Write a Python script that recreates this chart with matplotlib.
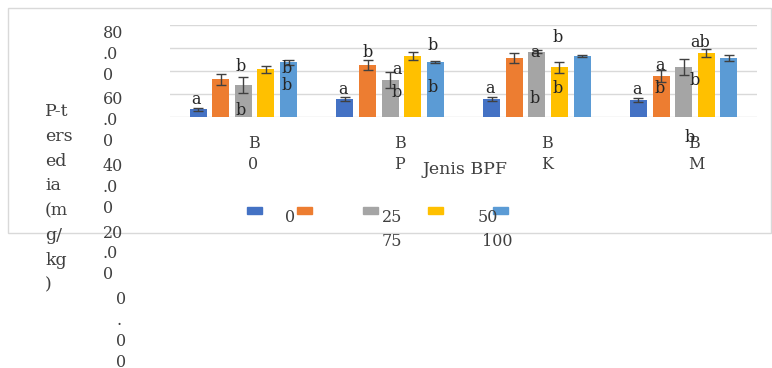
import numpy as np
import matplotlib
matplotlib.use('Agg')
import matplotlib.pyplot as plt
from matplotlib.patches import Rectangle
from matplotlib.transforms import blended_transform_factory

## data
groups = ['B\n0', 'B\nP', 'B\nK', 'B\nM']
series = ['0', '25', '50', '75', '100']
colors = ['#4472C4', '#ED7D31', '#A5A5A5', '#FFC000', '#5B9BD5']

vals = {
    '0':   [6.7, 15.7, 15.7, 14.8],
    '25':  [32.8, 45.2, 51.0, 35.7],
    '50':  [27.8, 32.2, 56.8, 43.8],
    '75':  [41.5, 53.0, 43.2, 55.4],
    '100': [47.6, 47.6, 53.0, 51.0],
}
errs = {
    '0':   [1.5, 1.5, 1.5, 1.5],
    '25':  [5.0, 4.0, 4.3, 5.0],
    '50':  [7.0, 7.0, 1.5, 7.0],
    '75':  [3.0, 3.7, 5.0, 3.5],
    '100': [2.0, 1.0, 0.5, 2.5],
}
# letters: text, group, bar slot, height
letters = [
    ('a', 0, -2.1, 14.8), ('b', 0, -0.1, 43.5), ('b', 0, -0.1, 6.0),
    ('b', 0, 1.9, 42.6), ('b', 0, 1.9, 27.8),
    ('a', 1, -2.07, 23.5), ('b', 1, -0.98, 55.7), ('a', 1, 0.3, 41.0),
    ('b', 1, 0.3, 21.7), ('b', 1, 1.9, 62.6), ('b', 1, 1.9, 26.0),
    ('a', 2, -2.08, 25.0), ('a', 2, -0.08, 56.5), ('b', 2, 0.9, 68.7),
    ('b', 2, -0.08, 16.5), ('b', 2, 0.94, 25.0),
    ('a', 3, -2.07, 23.5), ('a', 3, -1.05, 45.0), ('b', 3, -1.05, 25.0),
    ('b', 3, 0.5, 32.0), ('ab', 3, 0.73, 64.4), ('b', 3, 0.28, -17.4),
]
ytick_labels = ['80\n.0\n0', '60\n.0\n0', '40\n.0\n0', '20\n.0\n0', '0\n.\n0\n0']
ylabel = 'P-t\ners\ned\nia\n(m\ng/\nkg\n)'
xlabel = 'Jenis BPF'

W, H = 772, 368
TXT = '#404040'
FONT = 'DejaVu Serif'
plt.rcParams['font.family'] = FONT


def fx(x):
    return x / W


def fy(y):
    return 1 - y / H


fig = plt.figure(figsize=(W / 100, H / 100), dpi=100)
fig.patches.append(Rectangle((fx(8), fy(233)), fx(763), 225 / H, transform=fig.transFigure,
                             fill=False, edgecolor='#d9d9d9', lw=1))

ax = fig.add_axes([fx(170), fy(117), (757 - 170) / W, (117 - 25) / H])
ax.set_xlim(-0.5, 3.5)
ax.set_ylim(0, 80)
for s in ax.spines.values():
    s.set_visible(False)
ax.set_xticks([])
ax.set_yticks([])
for g in [0, 20, 40, 60, 80]:
    ax.axhline(g, color='#d9d9d9', lw=1, zorder=0)

x = np.arange(len(groups))
step = 0.154
width = 0.116
for i, s in enumerate(series):
    off = (i - 2) * step
    ax.bar(x + off, vals[s], width, color=colors[i], zorder=2)
    ax.errorbar(x + off, vals[s], yerr=errs[s], fmt='none', ecolor='#404040',
                elinewidth=1, capsize=3.5, zorder=3)

for t, g, slot, yv in letters:
    ax.text(g + slot * step, yv, t, ha='center', va='center', fontsize=11.5,
            color='#262626', zorder=4, clip_on=False)

# category labels under the groups
tr = blended_transform_factory(ax.transData, ax.transAxes)
for i, lab in enumerate(groups):
    ax.text(i + 0.03, -0.2, lab, transform=tr, ha='left', va='top', fontsize=11.5,
            color=TXT, linespacing=1.3)

fig.text(fx(423), fy(170), xlabel, ha='left', va='center', fontsize=12.5, color=TXT)

# y tick labels (wrapped)
for i, lab in enumerate(ytick_labels):
    xx = 103 if i < 4 else 116
    fig.text(fx(xx), fy(25 + i * 66.5), lab, ha='left', va='top', fontsize=11.5,
             color=TXT, linespacing=1.3)

fig.text(fx(45), fy(103), ylabel, ha='left', va='top', fontsize=12.5, color=TXT,
         linespacing=1.6)

# legend
sq_x = [247, 297, 363, 428, 493]
for i, c in enumerate(colors):
    fig.patches.append(Rectangle((fx(sq_x[i]), fy(214)), 15 / W, 7 / H,
                                 transform=fig.transFigure, color=c))
leg_pos = [(285, 218), (382, 218), (478, 218), (382, 241), (482, 241)]
for s, (lx, ly) in zip(series, leg_pos):
    fig.text(fx(lx), fy(ly), s, ha='left', va='center', fontsize=11.5, color=TXT)

fig.savefig('out.png', dpi=100)
